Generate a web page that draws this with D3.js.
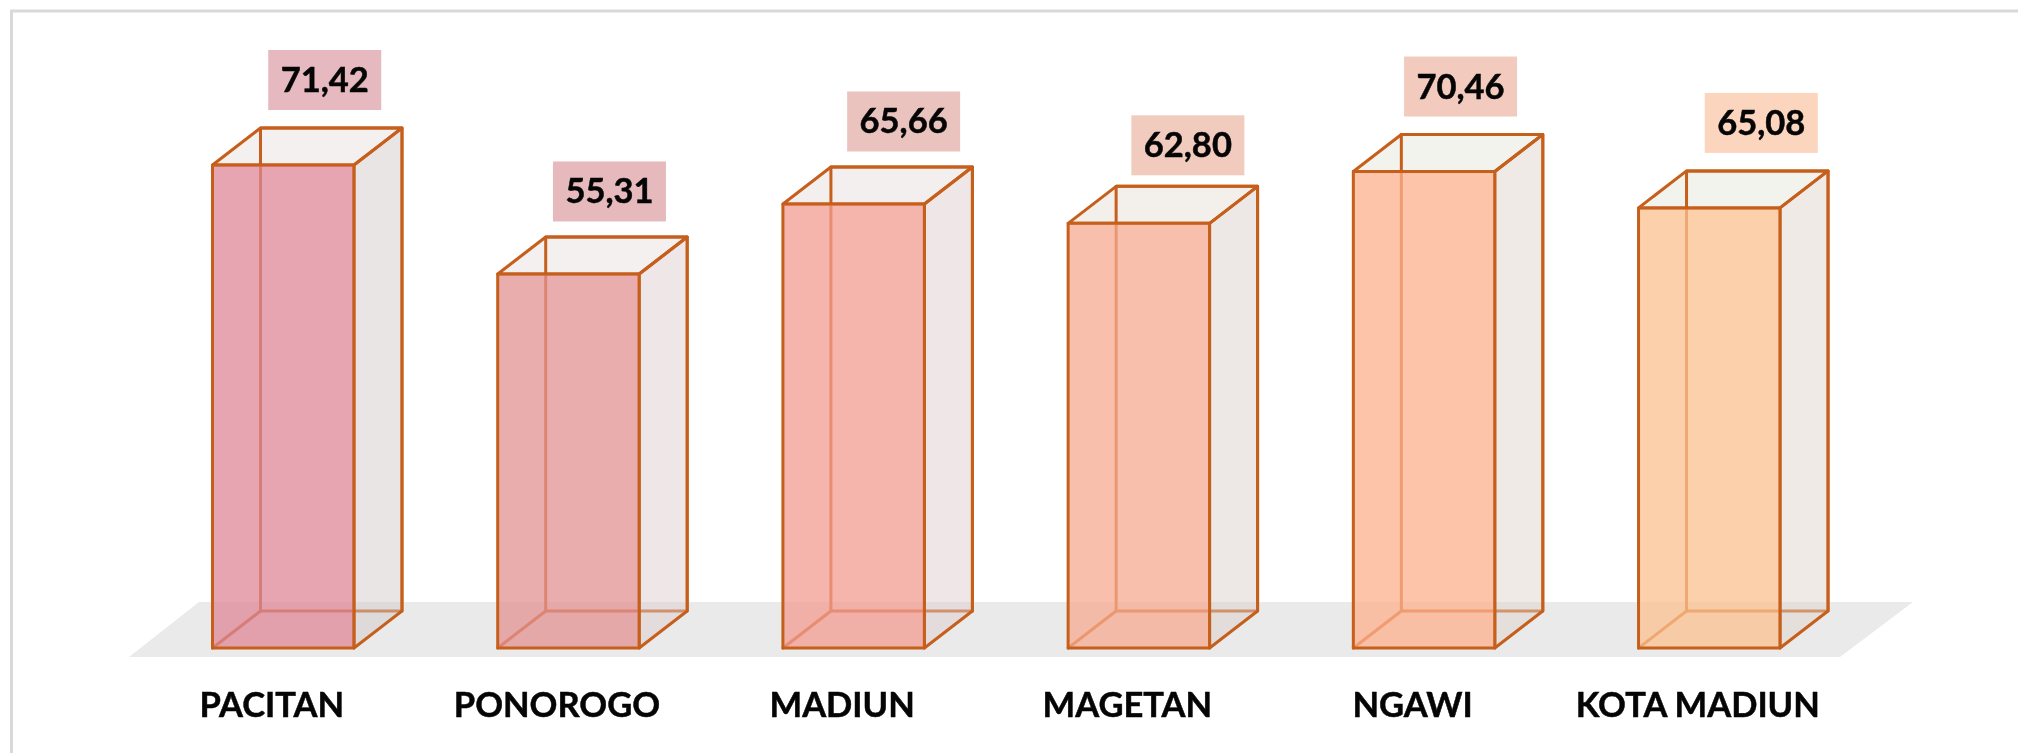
<!DOCTYPE html>
<html>
<head>
    <script src="https://cdn.jsdelivr.net/npm/d3@7"></script>
    <style>
        html, body { margin: 0; padding: 0; background: #fff; }
        svg { display: block; }
        text { font-family: Lato, "Liberation Sans", sans-serif; font-weight: 700; fill: #050505; stroke: #050505; stroke-width: 0.5px; }
        #plot { filter: blur(0.5px); }
    </style>
</head>
<body>
<svg id="chart" width="2018" height="753"></svg>
<script>
    const categories = ["PACITAN", "PONOROGO", "MADIUN", "MAGETAN", "NGAWI", "KOTA MADIUN"];
    const values = [71.42, 55.31, 65.66, 62.80, 70.46, 65.08];

    // colours per bar, going from pink to peach
    const frontColors = ["#de8796", "#e39292", "#f29c90", "#f6ab90", "#feb08e", "#fcc090"];
    const labelColors = ["#e6b8c0", "#e6babd", "#ebc3be", "#f1cbbe", "#f3cbbe", "#fcd5be"];
    const topColors = ["#f3f0ef", "#f3f0ef", "#f3efee", "#f3f0ec", "#f3f3ee", "#f3f3ee"];
    const sideColors = ["#d0c8c8", "#dccccc", "#dccccc", "#d8cec8", "#dcd2c8", "#dcd2c8"];
    // the labels were moved by hand in the original, so each has its own shift
    const labelShiftX = [41.5, 41, 50, 49, 36.5, 52];
    const labelShiftY = [0, 2.5, 2.5, 7, 0, 0];

    const svg = d3.select("#chart");
    const edge = "#c55f1b";
    const depthX = 48, depthY = 37;
    const baseY = 648;

    const x = d3.scaleBand().domain(categories).range([212.5, 1780]).paddingInner(0.504).paddingOuter(0);
    const y = d3.scaleLinear().domain([0, 80]).range([baseY, baseY - 541]);
    const formatValue = d3.formatLocale({ decimal: ",", thousands: ".", grouping: [3], currency: ["", ""] }).format(".2f");

    const poly = pts => d3.line()(pts) + "Z";

    // frame
    svg.append("rect").attr("x", 11.5).attr("y", 11).attr("width", 2100).attr("height", 900)
        .attr("fill", "#fff").attr("stroke", "#d9d9d9").attr("stroke-width", 3);

    const plot = svg.append("g").attr("id", "plot");

    // floor
    plot.append("path")
        .attr("d", poly([[129, 657], [199, 602], [1913, 602], [1840, 657]]))
        .attr("fill", "#eaeaea");

    const bars = plot.selectAll(".bar")
        .data(categories.map((c, i) => ({ c, i, v: values[i] })))
        .enter().append("g")
        .attr("class", "bar");

    bars.each(function (d) {
        const g = d3.select(this);
        const l = x(d.c), r = l + x.bandwidth(), t = y(d.v), b = y(0);
        const line = { fill: "none", stroke: edge, "stroke-width": 3, "stroke-linejoin": "round" };
        const addPath = (pts, attrs) => {
            const p = g.append("path").attr("d", poly(pts));
            Object.entries(attrs).forEach(([k, val]) => p.attr(k, val));
            return p;
        };
        // back faces, seen through the front
        addPath([[l, t], [l + depthX, t - depthY], [r + depthX, t - depthY], [r, t]], { fill: topColors[d.i] });
        addPath([[l + depthX, t - depthY], [r + depthX, t - depthY], [r + depthX, b - depthY], [l + depthX, b - depthY]], line);
        addPath([[l, b], [l + depthX, b - depthY]], line);
        // side
        addPath([[r, t], [r + depthX, t - depthY], [r + depthX, b - depthY], [r, b]], { fill: sideColors[d.i], "fill-opacity": 0.47 });
        addPath([[r, t], [r + depthX, t - depthY], [r + depthX, b - depthY], [r, b]], line);
        // top edges
        addPath([[l, t], [l + depthX, t - depthY], [r + depthX, t - depthY], [r, t]], line);
        // front
        addPath([[l, t], [r, t], [r, b], [l, b]], { fill: frontColors[d.i], "fill-opacity": 0.75 });
        addPath([[l, t], [r, t], [r, b], [l, b]], line);

        // value label
        const cx = l + x.bandwidth() / 2 + labelShiftX[d.i];
        const ly = t - 115 + labelShiftY[d.i];
        g.append("rect")
            .attr("x", cx - 56.5).attr("y", ly)
            .attr("width", 113).attr("height", 60)
            .attr("fill", labelColors[d.i]);
        g.append("text")
            .attr("x", cx).attr("y", ly + 42)
            .attr("text-anchor", "middle")
            .attr("font-size", 34.5)
            .text(formatValue(d.v));
    });

    // category axis
    const axis = plot.append("g")
        .attr("transform", "translate(-11.5,688)")
        .call(d3.axisBottom(x).tickSize(0).tickPadding(0));
    axis.select(".domain").remove();
    axis.selectAll("text")
        .attr("font-size", 34.5)
        .attr("dy", "0.84em")
        .style("font-family", "Lato, 'Liberation Sans', sans-serif");
</script>
</body>
</html>
